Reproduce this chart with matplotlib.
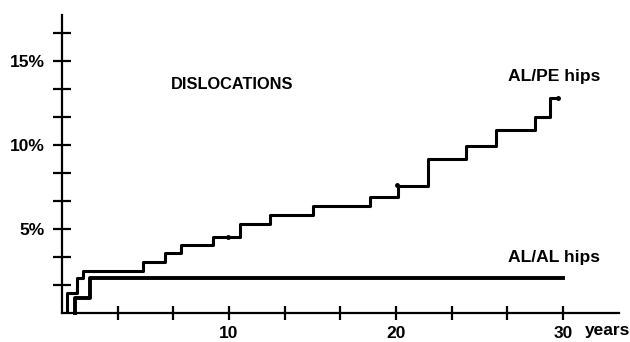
import numpy as np
import matplotlib
matplotlib.use('Agg')
import matplotlib.pyplot as plt

plt.rcParams['font.family'] = ['Liberation Sans', 'DejaVu Sans']
plt.rcParams['font.weight'] = 'bold'

# cumulative dislocation rate (%)
pe_years = [0.28, 0.28, 0.90, 1.28, 4.87, 6.17, 7.13, 9.02, 10.66, 12.46,
            15.01, 18.44, 20.14, 21.90, 24.19, 25.99, 28.32, 29.22, 29.72]
pe_rate = [0.15, 1.22, 2.07, 2.52, 3.05, 3.59, 4.05, 4.54, 5.30, 5.83,
           6.37, 6.92, 7.58, 9.17, 9.96, 10.89, 11.68, 12.82, 12.82]

al_years = [0.78, 0.78, 1.68, 30.0]
al_rate = [0.0, 0.91, 2.07, 2.07]

# small censoring dots on the AL/PE curve
dot_years = [9.95, 20.05, 29.72]
dot_rate = [4.50, 7.60, 12.82]

y_ticks = np.arange(1, 11) * 5 / 3
y_labels = ['', '', '5%', '', '', '10%', '', '', '15%', '']
x_ticks = np.arange(1, 10) * 10 / 3
x_labels = ['', '', '10', '', '', '20', '', '', '30']

fig = plt.figure(figsize=(6.3, 3.42), dpi=100)
ax = fig.add_axes([62 / 630, 29 / 342, 557 / 630, 298 / 342])

ax.plot(pe_years, pe_rate, drawstyle='steps-post', color='black', lw=2.2,
        clip_on=False)
ax.plot(al_years, al_rate, drawstyle='steps-post', color='black', lw=2.8,
        clip_on=False)
ax.plot(dot_years, dot_rate, 'o', color='black', ms=2.5, clip_on=False)

ax.set_xlim(0, 33.35)
ax.set_ylim(0, 17.74)
ax.spines['top'].set_visible(False)
ax.spines['right'].set_visible(False)
ax.spines['left'].set_linewidth(1.6)
ax.spines['bottom'].set_linewidth(1.6)

ax.set_yticks(y_ticks)
ax.set_yticklabels(y_labels)
ax.set_xticks(x_ticks)
ax.set_xticklabels(x_labels)
ax.tick_params(axis='y', direction='inout', length=13, width=1.6, pad=6,
               labelsize=12.5)
ax.tick_params(axis='x', direction='inout', length=10, width=1.6, pad=4,
               labelsize=12.5)

ax.text(6.5, 13.6, 'DISLOCATIONS', fontsize=11.8, fontweight='bold', va='center')
ax.text(26.7, 14.1, 'AL/PE hips', fontsize=12.6, fontweight='bold', va='center')
ax.text(26.7, 3.3, 'AL/AL hips', fontsize=12.6, fontweight='bold', va='center')
ax.text(31.3, -1.05, 'years', fontsize=12.5, fontweight='bold', va='center',
        clip_on=False)

plt.savefig('out.png', dpi=100)
